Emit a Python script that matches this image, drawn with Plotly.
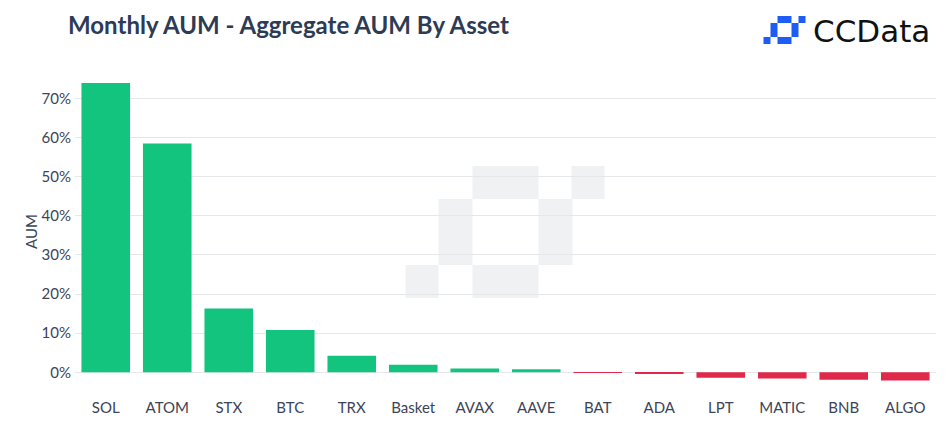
import plotly.graph_objects as go

assets = ["SOL", "ATOM", "STX", "BTC", "TRX", "Basket", "AVAX", "AAVE",
          "BAT", "ADA", "LPT", "MATIC", "BNB", "ALGO"]
aum_change = [74.0, 58.5, 16.3, 10.8, 4.2, 1.9, 0.95, 0.8,
              -0.08, -0.25, -1.4, -1.6, -1.9, -2.1]
tick_vals = [0, 10, 20, 30, 40, 50, 60, 70]
tick_text = ["0%", "10%", "20%", "30%", "40%", "50%", "60%", "70%"]

GREEN = "#13c47f"
RED = "#e0284b"
colors = [GREEN if v >= 0 else RED for v in aum_change]

fig = go.Figure(go.Bar(x=assets, y=aum_change, marker_color=colors,
                       marker_line_width=0))

W, H = 952, 432
L, R, T, B = 74.5, 16, 79, 48
FONT = "Lato"

def px_rect(x0, y0, x1, y1, color, layer="below"):
    # pixel coordinates of the page -> shapes anchored to plot corner
    return dict(type="rect", xref="paper", yref="paper",
                xsizemode="pixel", ysizemode="pixel", xanchor=0, yanchor=1,
                x0=x0 - L, x1=x1 - L, y0=-(y0 - T), y1=-(y1 - T),
                fillcolor=color, line_width=0, layer=layer)

shapes = []
# watermark
wm = "#f0f1f3"
for (a, b, c, d) in [(472, 166, 538, 199), (571, 166, 604, 199),
                     (438, 199, 472, 265), (538, 199, 572, 265),
                     (472, 265, 538, 298), (405, 265, 438, 298)]:
    shapes.append(px_rect(a, b, c, d, wm))
# logo icon
blue = "#1d5cf5"
u = 7
ox, oy = 763, 16
for (cx0, ry0, cx1, ry1) in [(2, 0, 4, 1), (5, 0, 6, 1), (1, 1, 2, 3),
                             (4, 1, 5, 3), (2, 3, 4, 4), (0, 3, 1, 4)]:
    shapes.append(px_rect(ox + cx0 * u, oy + ry0 * u, ox + cx1 * u, oy + ry1 * u,
                          blue, layer="above"))

fig.update_layout(
    width=W, height=H,
    margin=dict(l=L, r=R, t=T, b=B),
    paper_bgcolor="white", plot_bgcolor="rgba(0,0,0,0)",
    bargap=0.21,
    showlegend=False,
    font=dict(family=FONT, color="#3c4458", size=15),
    shapes=shapes,
    annotations=[
        dict(text="<b>Monthly AUM - Aggregate AUM By Asset</b>",
             xref="paper", yref="paper", x=(65 - L) / (W - L - R), y=1 + (T - 24) / (H - T - B),
             xanchor="left", yanchor="middle", showarrow=False,
             font=dict(family=FONT, size=24, color="#2d3b55")),
        dict(text="CCData", xref="paper", yref="paper",
             x=(811 - L) / (W - L - R), y=1 + (T - 31) / (H - T - B),
             xanchor="left", yanchor="middle", showarrow=False,
             font=dict(family="DejaVu Sans", size=31, color="#111111")),
    ],
)
fig.update_xaxes(showgrid=False, showline=False, ticks="", tickfont=dict(size=15),
                 ticklabelstandoff=13)
fig.update_yaxes(range=[-3, 75], tickvals=tick_vals, ticktext=tick_text,
                 showgrid=True, gridcolor="#e6e7ea", gridwidth=1,
                 zeroline=True, zerolinecolor="#e6e7ea", zerolinewidth=1,
                 ticks="", tickfont=dict(size=15), ticklabelstandoff=3,
                 title=dict(text="AUM", font=dict(size=15), standoff=0))

fig.write_html("out.html")
